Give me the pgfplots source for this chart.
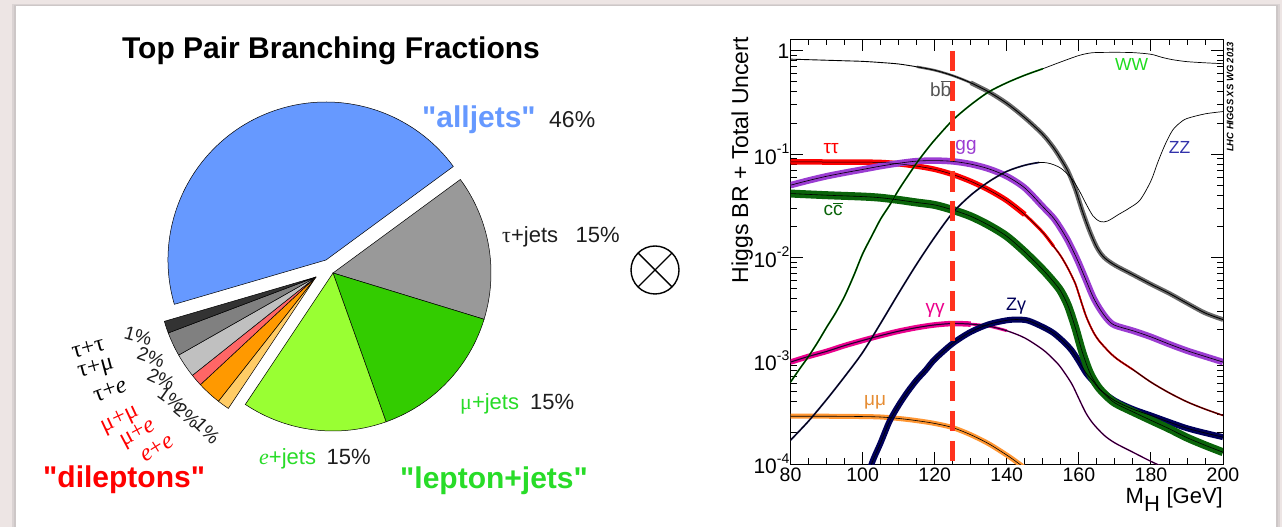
\documentclass[border=0pt]{standalone}
\usepackage{pgfplots}
\pgfplotsset{compat=1.18}
\usepackage{pgfplotstable}
\usepackage{fontspec}
\setmainfont{Liberation Sans}
\newfontfamily\serif{Liberation Serif}
\newcommand{\fs}[1]{\fontsize{#1}{#1}\selectfont}
\newcommand{\q}{\textquotedbl}

% slide
\definecolor{slidebg}{RGB}{237,229,228}
\definecolor{shadow}{RGB}{205,199,199}
% pie
\definecolor{call}{RGB}{102,153,255}
\definecolor{ctauj}{RGB}{153,153,153}
\definecolor{cmuj}{RGB}{51,204,0}
\definecolor{cej}{RGB}{153,255,51}
\definecolor{ctautau}{RGB}{51,51,51}
\definecolor{ctaumu}{RGB}{128,128,128}
\definecolor{ctaue}{RGB}{192,192,192}
\definecolor{cmumu}{RGB}{255,102,102}
\definecolor{cmue}{RGB}{255,153,0}
\definecolor{cee}{RGB}{255,204,102}
\definecolor{lgreen}{RGB}{40,220,40}
\definecolor{txt}{RGB}{30,30,30}
% higgs
\definecolor{bbgray}{RGB}{105,105,105}
\definecolor{ggpurple}{RGB}{155,60,210}
\definecolor{ccgreen}{RGB}{10,100,10}
\definecolor{wwline}{RGB}{0,140,0}
\definecolor{wwlab}{RGB}{30,220,30}
\definecolor{zzlab}{RGB}{50,50,170}
\definecolor{zzline}{RGB}{30,30,95}
\definecolor{ttdark}{RGB}{150,0,0}
\definecolor{aapurple}{RGB}{120,0,120}
\definecolor{zgnavy}{RGB}{0,0,90}
\definecolor{mmorange}{RGB}{255,150,50}
\definecolor{mmlab}{RGB}{230,140,50}
\definecolor{dashred}{RGB}{255,50,30}

% top pair branching fractions, in percent, clockwise from tau+jets
\pgfplotstableread{
share   fillc    dx   dy
14.815  ctauj     0    0
14.815  cmuj      0    0
14.815  cej       0    0
1.235   cee     -17   -4
2.469   cmue    -17   -4
1.235   cmumu   -17   -4
2.469   ctaue   -17   -4
2.469   ctaumu  -17   -4
1.235   ctautau -17   -4
44.444  call     -7   13
}\pietable

% Higgs branching ratios
\pgfplotstableread{
m br
80 0.83
85 0.82
90 0.81
95 0.80
100 0.79
105 0.77
110 0.745
115 0.70
120 0.648
125 0.575
130 0.49
135 0.40
140 0.31
145 0.225
150 0.155
153 0.115
155 0.090
157 0.068
159 0.046
161 0.028
163 0.018
165 0.0125
167 0.010
170 0.0084
175 0.0068
180 0.0055
185 0.0045
190 0.0036
195 0.0029
200 0.0025
}\bbdata
\pgfplotstableread{
m br
80 6.2e-4
82.5 8.3e-4
85 1.1e-3
87.5 1.5e-3
90 2.1e-3
92.5 2.9e-3
95 4.2e-3
97.5 6.6e-3
100 0.0108
102.5 0.016
105 0.0235
107.5 0.032
110 0.045
112.5 0.061
115 0.082
117.5 0.107
120 0.137
125 0.213
130 0.30
135 0.40
140 0.49
145 0.58
150 0.67
155 0.78
160 0.90
163 0.95
165 0.962
170 0.966
175 0.96
180 0.925
183 0.865
186 0.82
190 0.785
195 0.765
200 0.75
}\wwdata
\pgfplotstableread{
m br
80 1.7e-4
85 2.6e-4
90 4.2e-4
95 7.0e-4
100 1.2e-3
105 2.3e-3
110 4.5e-3
115 8.6e-3
120 0.0157
125 0.027
130 0.040
135 0.054
140 0.068
145 0.078
149 0.083
152 0.081
155 0.073
158 0.058
160 0.045
162 0.033
164 0.025
166 0.0222
168 0.0225
171 0.026
174 0.030
177 0.036
180 0.055
182 0.085
184 0.125
186 0.17
188 0.20
190 0.221
195 0.245
200 0.258
}\zzdata
\pgfplotstableread{
m br
80 0.084
90 0.0838
100 0.0835
105 0.083
110 0.0805
115 0.0765
120 0.0712
125 0.0635
130 0.0545
135 0.045
140 0.0355
145 0.026
150 0.0175
153 0.0128
155 0.0103
157 0.0078
159 0.0056
160 0.0044
162 0.0027
164 0.0019
166 0.0015
170 0.00108
175 8.2e-4
180 6.2e-4
185 4.9e-4
190 4.0e-4
195 3.4e-4
200 2.95e-4
}\ttdata
\pgfplotstableread{
m br
80 0.050
85 0.0555
90 0.061
95 0.066
100 0.071
105 0.0765
110 0.0815
115 0.0855
120 0.0865
125 0.085
130 0.080
135 0.072
140 0.061
145 0.047
150 0.031
153 0.024
155 0.019
157 0.0145
159 0.0105
160 0.0088
162 0.0060
164 0.0041
166 0.0031
168 0.0025
170 0.0022
175 0.00195
180 0.0017
185 0.00145
190 0.00125
195 0.0011
200 0.00097
}\ggdata
\pgfplotstableread{
m br
80 0.0415
90 0.040
100 0.0388
105 0.0378
110 0.036
115 0.034
120 0.0322
125 0.0288
130 0.025
135 0.0205
140 0.0160
145 0.0113
150 0.0076
153 0.0058
155 0.0047
157 0.0034
159 0.0021
161 0.0012
163 0.00077
165 0.00058
167 0.00048
170 0.00039
175 0.00032
180 0.000265
185 0.00022
190 0.00018
195 0.000152
200 0.00013
}\ccdata
\pgfplotstableread{
m br
80 9.7e-4
85 1.1e-3
90 1.23e-3
95 1.4e-3
100 1.57e-3
105 1.75e-3
110 1.93e-3
115 2.09e-3
120 2.22e-3
125 2.29e-3
130 2.26e-3
135 2.16e-3
140 1.95e-3
145 1.66e-3
150 1.28e-3
153 1.03e-3
155 8.6e-4
158 6.0e-4
160 4.3e-4
162 3.1e-4
164 2.45e-4
167 1.9e-4
170 1.6e-4
175 1.3e-4
180 1.06e-4
185 8.8e-5
}\aadata
\pgfplotstableread{
m br
100 5.0e-5
102.5 1.0e-4
105 1.6e-4
107.5 2.6e-4
110 3.7e-4
112.5 5.0e-4
115 6.5e-4
117.5 8.1e-4
120 1.03e-3
125 1.47e-3
130 1.9e-3
135 2.25e-3
140 2.46e-3
143 2.5e-3
146 2.44e-3
150 2.12e-3
153 1.85e-3
156 1.5e-3
158 1.26e-3
160 9.9e-4
162 7.6e-4
164 6.3e-4
166 5.2e-4
170 4.1e-4
175 3.4e-4
180 2.95e-4
185 2.55e-4
190 2.22e-4
195 2.0e-4
200 1.82e-4
}\zgdata
\pgfplotstableread{
m br
80 2.90e-4
90 2.90e-4
100 2.88e-4
105 2.85e-4
110 2.76e-4
115 2.63e-4
120 2.47e-4
125 2.25e-4
130 1.92e-4
135 1.57e-4
140 1.22e-4
143 1.03e-4
146 8.6e-5
}\mmdata

\begin{document}
\begin{tikzpicture}
\useasboundingbox (0,0) rectangle (1282pt,527pt);

% slide background
\begin{scope}[x=1pt,y=-1pt,shift={(0,527pt)}]
\fill[slidebg] (0,0) rectangle (1282,527);
\fill[shadow!60!slidebg] (12,4) rectangle (1280,527);
\fill[shadow] (14,5) rectangle (1278,527);
\fill[white] (16,6) rectangle (1276,527);
\end{scope}

% pie chart
\begin{axis}[at={(333pt,254pt)}, anchor=center, x=1pt, y=1pt,
  xmin=-200, xmax=200, ymin=-200, ymax=200, hide axis, clip=false]
\def\ang{36.3}
\pgfplotsforeachungrouped \i in {0,...,9}{%
  \pgfplotstablegetelem{\i}{share}\of\pietable \let\sh\pgfplotsretval
  \pgfplotstablegetelem{\i}{fillc}\of\pietable \let\cc\pgfplotsretval
  \pgfplotstablegetelem{\i}{dx}\of\pietable \let\dx\pgfplotsretval
  \pgfplotstablegetelem{\i}{dy}\of\pietable \let\dy\pgfplotsretval
  \pgfmathsetmacro\dl{\sh*3.6}%
  \edef\wedge{\noexpand\filldraw[fill=\cc, draw=black, line width=0.5pt]
    (axis cs:\dx,\dy) -- ++(\ang:158pt)
    arc[start angle=\ang, delta angle=-\dl, radius=158pt] -- cycle;}%
  \wedge
  \pgfmathsetmacro\ang{\ang-\dl}%
}
\end{axis}

% Higgs branching ratios
\begin{axis}[at={(790.5pt,63pt)}, anchor=south west, scale only axis,
  width=432.5pt, height=425pt,
  xmin=80, xmax=200, ymode=log, ymin=1e-4, ymax=1.3,
  axis line style={line width=1pt},
  tick style={black, line width=0.9pt},
  tick align=inside, major tick length=12pt, minor tick length=6.5pt,
  xtick={80,100,...,200}, minor x tick num=3,
  ytick={1e-4,1e-3,1e-2,1e-1,1},
  yticklabels={10\raisebox{0.5em}{\fs{14}-4},10\raisebox{0.5em}{\fs{14}-3},
    10\raisebox{0.5em}{\fs{14}-2},10\raisebox{0.5em}{\fs{14}-1},1},
  minor ytick={2e-4,3e-4,4e-4,5e-4,6e-4,7e-4,8e-4,9e-4,
    2e-3,3e-3,4e-3,5e-3,6e-3,7e-3,8e-3,9e-3,
    2e-2,3e-2,4e-2,5e-2,6e-2,7e-2,8e-2,9e-2,
    0.2,0.3,0.4,0.5,0.6,0.7,0.8,0.9},
  xticklabel style={inner sep=0pt, yshift=-4pt, font=\fs{19.5}},
  yticklabel style={inner sep=0pt, xshift=-1pt, font=\fs{21}},
  /pgf/number format/assume math mode=true,
  every axis plot/.append style={smooth, tension=0.5},
  ]
% bands
\addplot[mmorange, line width=5pt] table {\mmdata};
\addplot[magenta, line width=5.5pt, restrict x to domain=80:132] table {\aadata};
\addplot[magenta, line width=2.8pt, restrict x to domain=80:142] table {\aadata};
\addplot[aapurple, line width=1.4pt] table {\aadata};
\addplot[zgnavy, line width=6pt] table {\zgdata};
\addplot[ccgreen, line width=8pt] table {\ccdata};
\addplot[ttdark, line width=1.6pt] table {\ttdata};
\addplot[red, line width=5.5pt, restrict x to domain=80:146] table {\ttdata};
\addplot[red, line width=3pt, restrict x to domain=80:153] table {\ttdata};
\addplot[red, line width=1.6pt, restrict x to domain=80:175] table {\ttdata};
\addplot[ggpurple, line width=6.5pt] table {\ggdata};
\addplot[bbgray, line width=2.4pt, restrict x to domain=112:200] table {\bbdata};
\addplot[bbgray, line width=4.6pt, restrict x to domain=128:200] table {\bbdata};
% lines
\addplot[wwline, line width=1.7pt, restrict x to domain=80:152] table {\wwdata};
\addplot[zzline, line width=1.7pt, restrict x to domain=80:150] table {\zzdata};
\addplot[black, line width=0.6pt] table {\mmdata};
\addplot[black, line width=0.5pt] table {\aadata};
\addplot[black, line width=0.7pt] table {\zgdata};
\addplot[black, line width=0.6pt] table {\ccdata};
\addplot[black, line width=0.5pt] table {\ttdata};
\addplot[black, line width=0.6pt] table {\ggdata};
\addplot[black, line width=0.9pt] table {\bbdata};
\addplot[black, line width=0.7pt] table {\wwdata};
\addplot[black, line width=0.7pt] table {\zzdata};
% m_H = 125 GeV
\addplot[dashred, line width=5pt, dash pattern=on 20pt off 10pt] coordinates {(125,1) (125,1e-4)};
\end{axis}

\begin{scope}[x=1pt,y=-1pt,shift={(0,527pt)}]
% pie texts
\node[anchor=base, font=\bfseries\fs{30}] at (331,58.5) {Top Pair Branching Fractions};
\node[anchor=base west, font=\bfseries\fs{30}, text=call, inner sep=0pt] at (422,128) {\q alljets\q};
\node[anchor=base west, font=\fs{23}, text=txt, inner sep=0pt] at (549,128) {46\%};
\node[anchor=base west, font=\fs{22}, text=txt, inner sep=0pt] at (502,243) {{\serif τ}+jets};
\node[anchor=base west, font=\fs{22}, text=txt, inner sep=0pt] at (575.5,243) {15\%};
\node[anchor=base west, font=\fs{22}, text=lgreen, inner sep=0pt] at (460,410) {{\serif μ}+jets};
\node[anchor=base west, font=\fs{22}, text=txt, inner sep=0pt] at (530,410) {15\%};
\node[anchor=base west, font=\fs{22}, text=lgreen, inner sep=0pt] at (259,465) {{\serif\itshape e}+jets};
\node[anchor=base west, font=\fs{22}, text=txt, inner sep=0pt] at (326.5,465) {15\%};
\node[anchor=base west, font=\bfseries\fs{30}, text=lgreen, inner sep=0pt] at (400,489) {\q lepton+jets\q};
\node[anchor=base west, font=\bfseries\fs{30}, text=red, inner sep=0pt] at (43,488) {\q dileptons\q};
% dilepton channels
\begin{scope}[every node/.style={inner sep=0pt, font=\serif\fs{24}}]
\node[rotate=15] at (88,348) {τ+τ};
\node[rotate=15] at (96,369) {τ+μ};
\node[rotate=20] at (110,390) {τ+{\itshape e}};
\node[rotate=25, text=red] at (120,420) {μ+μ};
\node[rotate=28, text=red] at (138,434) {μ+{\itshape e}};
\node[rotate=32, text=red] at (157,448) {{\itshape e}+{\itshape e}};
\end{scope}
\begin{scope}[every node/.style={inner sep=0pt, font=\fs{19}, text=txt}]
\node[rotate=-15] at (138,336) {1\%};
\node[rotate=-20] at (151,357) {2\%};
\node[rotate=-25] at (161,379) {2\%};
\node[rotate=-35] at (171,399) {1\%};
\node[rotate=-40] at (187,415) {2\%};
\node[rotate=-45] at (207,431) {1\%};
\end{scope}
% product sign
\draw[line width=1.4pt] (655,270) circle (24);
\draw[line width=1.4pt] (638,253) -- (672,287) (638,287) -- (672,253);
% Higgs texts
\node[rotate=90, anchor=base east, inner sep=0pt, font=\fs{23}] at (748,37) {Higgs BR + Total Uncert};
\node[anchor=base east, inner sep=0pt, font=\fs{22}] at (1223,504) {M$_{\mbox{H}}$ [GeV]};
\node[rotate=90, inner sep=0pt, font=\bfseries\itshape\fs{9.4}] at (1230,97) {LHC HIGGS XS WG 2013};
\begin{scope}[every node/.style={inner sep=0pt, font=\fs{19}}]
\node[text=bbgray!80!black] at (940.7,88.3) {b$\overline{\mbox{b}}$};
\node[text=red] at (831,149) {ττ};
\node[text=ggpurple] at (966,147) {gg};
\node[text=ccgreen] at (833,209) {c$\overline{\mbox{c}}$};
\node[text=wwlab, font=\fs{17.5}] at (1131.7,64.7) {WW};
\node[text=zzlab, font=\fs{17.5}] at (1179.5,147) {ZZ};
\node[text=magenta] at (935,310) {γγ};
\node[text=zgnavy, font=\fs{18}] at (1016,306) {Zγ};
\node[text=mmlab] at (875,402) {μμ};
\end{scope}
\end{scope}
\end{tikzpicture}
\end{document}
